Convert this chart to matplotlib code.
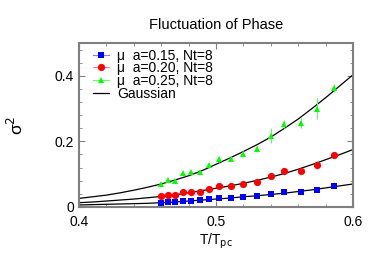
import matplotlib
matplotlib.use('Agg')
import matplotlib.pyplot as plt
from matplotlib.pyplot import MultipleLocator
from matplotlib.lines import Line2D

plt.rcParams['font.family'] = ['Liberation Sans', 'DejaVu Sans']

# temperatures of the lattice points (same for all three mu values)
T = [0.460, 0.465, 0.470, 0.476, 0.482, 0.488, 0.495, 0.502,
     0.511, 0.520, 0.530, 0.540, 0.550, 0.562, 0.574, 0.586]

sig_015 = [0.012, 0.014, 0.014, 0.018, 0.019, 0.020, 0.023, 0.027,
           0.027, 0.030, 0.033, 0.038, 0.045, 0.045, 0.052, 0.065]
err_015 = [0.002, 0.002, 0.002, 0.002, 0.002, 0.002, 0.002, 0.002,
           0.002, 0.002, 0.002, 0.002, 0.002, 0.002, 0.003, 0.003]

sig_020 = [0.032, 0.036, 0.036, 0.044, 0.046, 0.046, 0.055, 0.064,
           0.065, 0.070, 0.076, 0.095, 0.109, 0.111, 0.128, 0.159]
err_020 = [0.003, 0.003, 0.003, 0.003, 0.003, 0.003, 0.003, 0.003,
           0.003, 0.004, 0.004, 0.005, 0.004, 0.005, 0.012, 0.004]

sig_025 = [0.070, 0.081, 0.080, 0.103, 0.106, 0.107, 0.127, 0.146,
           0.147, 0.162, 0.178, 0.217, 0.253, 0.256, 0.299, 0.364]
err_025 = [0.005, 0.008, 0.008, 0.006, 0.006, 0.006, 0.007, 0.008,
           0.008, 0.010, 0.010, 0.023, 0.013, 0.015, 0.032, 0.012]

# gaussian fit curves
T_fit = [0.40, 0.41, 0.42, 0.43, 0.44, 0.45, 0.46, 0.47, 0.48, 0.49, 0.50,
         0.51, 0.52, 0.53, 0.54, 0.55, 0.56, 0.57, 0.58, 0.59, 0.60]
fit_015 = [0.006, 0.007, 0.008, 0.009, 0.010, 0.011, 0.013, 0.015, 0.018, 0.021, 0.024,
           0.027, 0.031, 0.034, 0.038, 0.042, 0.047, 0.052, 0.058, 0.064, 0.070]
fit_020 = [0.013, 0.015, 0.018, 0.021, 0.024, 0.028, 0.032, 0.037, 0.043, 0.050, 0.057,
           0.064, 0.072, 0.081, 0.091, 0.102, 0.115, 0.129, 0.144, 0.159, 0.175]
fit_025 = [0.026, 0.031, 0.036, 0.043, 0.051, 0.060, 0.070, 0.082, 0.095, 0.111, 0.130,
           0.149, 0.169, 0.190, 0.213, 0.240, 0.268, 0.300, 0.333, 0.368, 0.403]

labels = ['\u03bc  a=0.15, Nt=8', '\u03bc  a=0.20, Nt=8', '\u03bc  a=0.25, Nt=8']

fig = plt.figure(figsize=(3.82, 2.67), dpi=100)
ax = fig.add_axes([0.207, 0.225, 0.717, 0.614])

series = [(sig_015, err_015, fit_015, '#0000ff', '#8080ff', 's', 4.8),
          (sig_020, err_020, fit_020, '#ff0000', '#ff8080', 'o', 5.2),
          (sig_025, err_025, fit_025, '#00ff00', '#60ff60', '^', 4.8)]

for s, e, f, c, ec, m, ms in series:
    ax.plot(T_fit, f, color='black', lw=0.9, zorder=2)
    ax.errorbar(T, s, yerr=e, fmt=m, color=c, ecolor=ec, ms=ms, mew=0,
                elinewidth=0.8, capsize=2, capthick=0.8, zorder=3)

handles = []
for s, e, f, c, ec, m, ms in series:
    handles.append(Line2D([], [], color=ec, marker=m, markerfacecolor=c,
                          markeredgewidth=0, ms=ms, lw=0.8))
handles.append(Line2D([], [], color='black', lw=0.9))
ax.legend(handles, labels + ['Gaussian'], loc='upper left', frameon=False,
          bbox_to_anchor=(0.05, 0.965), fontsize=10, handlelength=1.15,
          handletextpad=0.6, labelspacing=-0.1, borderaxespad=0, borderpad=0)

ax.set_xlim(0.4, 0.6)
ax.set_ylim(0, 0.5)
ax.set_xticks([0.4, 0.5, 0.6])
ax.set_xticklabels(['0.4', '0.5', '0.6'])
ax.set_yticks([0, 0.2, 0.4])
ax.set_yticklabels(['0', '0.2', '0.4'])
ax.xaxis.set_minor_locator(MultipleLocator(0.02))
ax.yaxis.set_minor_locator(MultipleLocator(0.04))
ax.tick_params(which='both', direction='in', top=True, right=True,
               color='#808080', labelsize=10)
ax.tick_params(axis='x', pad=6)
ax.tick_params(which='major', length=4)
ax.tick_params(which='minor', length=2.5)
for sp in ax.spines.values():
    sp.set_color('#808080')
    sp.set_linewidth(1.5)

ax.set_title('Fluctuation of Phase', fontsize=10.5, pad=10)
ax.set_xlabel('T/T$_{\\rm pc}$', fontsize=10, labelpad=2)
ax.set_ylabel('\u03c3$^2$', fontsize=12.5, labelpad=21)

fig.savefig('out.png', dpi=100)
